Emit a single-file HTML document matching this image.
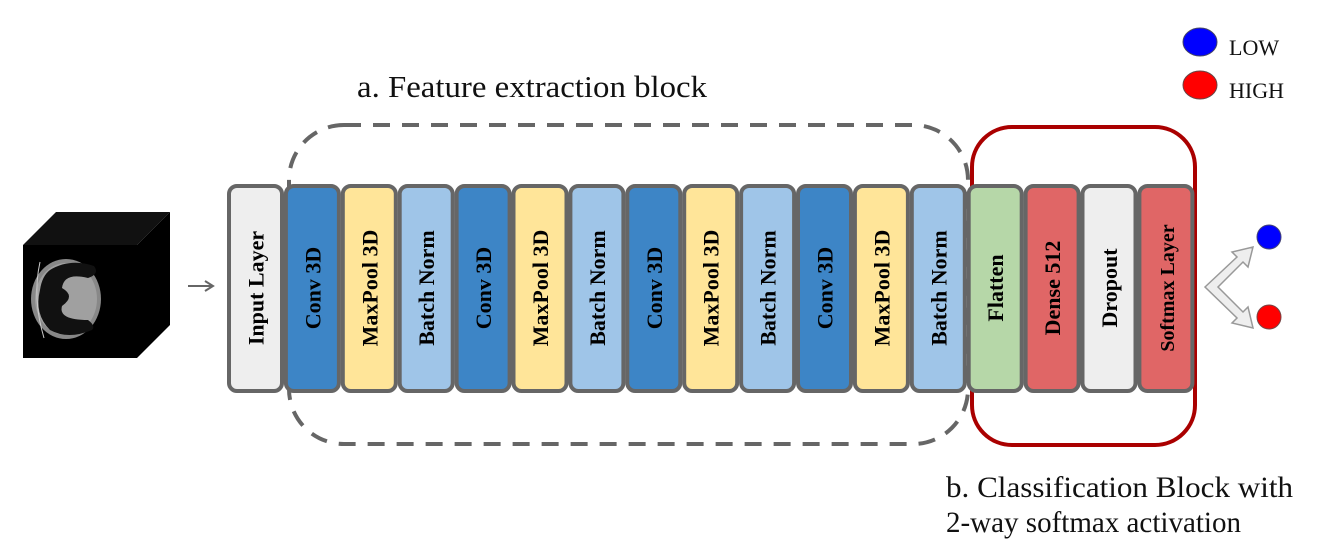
<!DOCTYPE html>
<html><head><meta charset="utf-8"><style>
html,body{margin:0;padding:0;background:#fff;width:1318px;height:545px;overflow:hidden}
svg{display:block;font-family:"Liberation Serif",serif}
</style></head><body>
<svg width="1318" height="545" viewBox="0 0 1318 545">
  <text x="357" y="97" font-size="31" fill="#111" textLength="350" lengthAdjust="spacingAndGlyphs">a. Feature extraction block</text>
  <rect x="289" y="125" width="679" height="319" rx="55" ry="55" fill="none" stroke="#666" stroke-width="4" stroke-dasharray="17 12"/>
  <rect x="972" y="127" width="223" height="318" rx="40" ry="40" fill="none" stroke="#a00" stroke-width="4"/>

  <g>
    <polygon points="23,245 56,212 170,212 137,245" fill="#111"/>
    <polygon points="137,245 170,212 170,325 137,358" fill="#000"/>
    <rect x="23" y="245" width="114" height="113" fill="#000"/>
    <ellipse cx="66" cy="299" rx="35" ry="40" fill="#888"/>
    <ellipse cx="66" cy="299" rx="31" ry="36" fill="#a0a0a0"/>
    <path d="M50,270 q20,-12 44,-4 q6,8 -6,12 q-24,-6 -26,10 q14,8 0,18 q-4,14 26,14 q8,6 4,10 q-24,10 -42,0 q-16,-16 -10,-40 q2,-14 10,-20z" fill="#111"/>
    <path d="M40,262 q-8,36 4,76" stroke="#ccc" stroke-width="1" fill="none"/>
  </g>
  <g>
    <line x1="188" y1="286" x2="212" y2="286" stroke="#666" stroke-width="2"/>
    <polyline points="205,281 213,286 205,291" fill="none" stroke="#666" stroke-width="2"/>
  </g>

  <g id="layers"></g>

  <g>
    <polygon points="1205,287 1237,257 1232,252 1253,247 1248,267 1243,262 1218,287 1243,312 1248,307 1253,328 1232,323 1237,318" fill="#eee" stroke="#999" stroke-width="1.5"/>
  </g>
  <circle cx="1269" cy="237" r="12" fill="#00f" stroke="#447" stroke-width="1"/>
  <circle cx="1269" cy="317" r="12" fill="#f00" stroke="#744" stroke-width="1"/>

  <g>
    <ellipse cx="1200" cy="42" rx="17" ry="14" fill="#00f" stroke="#446"/>
    <text x="1229" y="55" font-size="22" fill="#111">LOW</text>
    <ellipse cx="1200" cy="85" rx="17" ry="14" fill="#f00" stroke="#644"/>
    <text x="1229" y="98" font-size="22" fill="#111">HIGH</text>
  </g>

  <text x="946" y="497" font-size="30" fill="#111" textLength="347" lengthAdjust="spacingAndGlyphs">b. Classification Block with</text>
  <text x="946" y="532" font-size="30" fill="#111" textLength="295" lengthAdjust="spacingAndGlyphs">2-way softmax activation</text>
</svg>
<script>
const layerNames=["Input Layer","Conv 3D","MaxPool 3D","Batch Norm","Conv 3D","MaxPool 3D","Batch Norm","Conv 3D","MaxPool 3D","Batch Norm","Conv 3D","MaxPool 3D","Batch Norm","Flatten","Dense 512","Dropout","Softmax Layer"];
const layerColors=["#eeeeee","#3d85c6","#ffe599","#9fc5e8","#3d85c6","#ffe599","#9fc5e8","#3d85c6","#ffe599","#9fc5e8","#3d85c6","#ffe599","#9fc5e8","#b6d7a8","#e06666","#eeeeee","#e06666"];
const g=document.getElementById('layers');
const NS='http://www.w3.org/2000/svg';
layerNames.forEach((n,i)=>{
  const x=229+i*56.9;
  const grp=document.createElementNS(NS,'g');
  
  
  const r=document.createElementNS(NS,'rect');
  r.setAttribute('x',x);r.setAttribute('y',186);r.setAttribute('width',53);r.setAttribute('height',205);
  r.setAttribute('rx',8);r.setAttribute('fill',layerColors[i]);r.setAttribute('stroke','#666');r.setAttribute('stroke-width',4);
  grp.appendChild(r);
  const t=document.createElementNS(NS,'text');
  const cx=x+26.5, cy=288;
  t.setAttribute('x',cx);t.setAttribute('y',cy+8);
  t.setAttribute('transform','rotate(-90 '+cx+' '+cy+')');
  t.setAttribute('text-anchor','middle');t.setAttribute('font-weight','bold');
  t.setAttribute('font-size',n==='Softmax Layer'?20:22);t.setAttribute('fill','#000');
  t.textContent=n;
  grp.appendChild(t);
  g.appendChild(grp);
});
</script>
</body></html>
